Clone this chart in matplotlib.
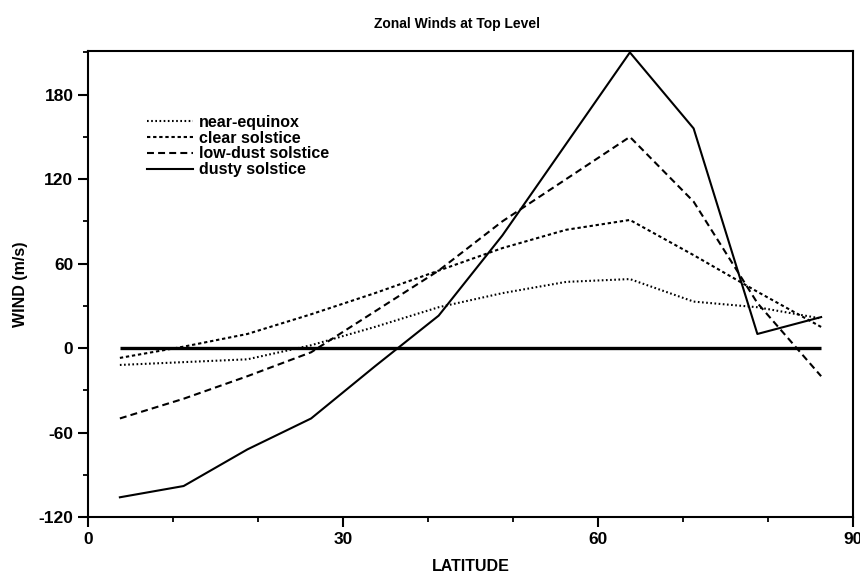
import matplotlib
matplotlib.use("Agg")
import matplotlib.pyplot as plt
from matplotlib.ticker import MultipleLocator

plt.rcParams['font.family'] = ['Liberation Sans', 'DejaVu Sans']
plt.rcParams['font.weight'] = 'bold'
plt.rcParams['lines.scale_dashes'] = False
plt.rcParams['axes.unicode_minus'] = False

latitude = [3.75, 11.25, 18.75, 26.25, 33.75, 41.25, 48.75, 56.25, 63.75, 71.25, 78.75, 86.25]
near_equinox = [-12, -10, -8, 2, 15, 29, 39, 47, 49, 33, 29, 21]
clear_solstice = [-7, 1, 10, 24, 39, 55, 71, 84, 91, 66, 40, 15]
low_dust_solstice = [-50, -36, -20, -3, 26, 55, 90, 120, 150, 104, 32, -20]
dusty_solstice = [-106, -98, -72, -50, -13, 23, 80, 145, 210, 156, 10, 22]
zero_line = [0] * len(latitude)

series_names = ["near-equinox", "clear solstice", "low-dust solstice", "dusty solstice"]
x_ticks = [0, 30, 60, 90]
y_ticks = [-120, -60, 0, 60, 120, 180]

fig = plt.figure(figsize=(8.6, 5.75), dpi=100)
ax = fig.add_axes([88/860, 1 - 517/575, (853-88)/860, (517-51)/575])

lw = 1.5
l1, = ax.plot(latitude, near_equinox, color='black', lw=lw, linestyle=(0, (1.2, 1.8)), label=series_names[0])
l2, = ax.plot(latitude, clear_solstice, color='black', lw=lw, linestyle=(0, (2.4, 2.0)), label=series_names[1])
l3, = ax.plot(latitude, low_dust_solstice, color='black', lw=lw, linestyle=(0, (5.0, 3.0)), label=series_names[2])
l4, = ax.plot(latitude, dusty_solstice, color='black', lw=lw, linestyle='-', label=series_names[3])
ax.plot(latitude, zero_line, color='black', lw=2.4, solid_capstyle='butt')

ax.set_xlim(0, 90)
ax.set_ylim(-120, 211)
ax.set_xticks(x_ticks)
ax.set_yticks(y_ticks)
ax.xaxis.set_minor_locator(MultipleLocator(10))
ax.yaxis.set_minor_locator(MultipleLocator(30))
ax.tick_params(which='major', direction='out', length=7, width=1.5, labelsize=12.5, pad=3.5)
ax.tick_params(which='minor', direction='out', length=3.6, width=1.3)
for lab in ax.get_xticklabels() + ax.get_yticklabels():
    lab.set_fontweight('bold')
for sp in ax.spines.values():
    sp.set_linewidth(1.5)

ax.set_xlabel("LATITUDE", fontsize=11.5, fontweight='bold')
ax.xaxis.set_label_coords(0.5, -0.090)
ax.set_ylabel("WIND (m/s)", fontsize=11.5, fontweight='bold')
ax.yaxis.set_label_coords(-0.078, 0.5)
ax.set_title("Zonal Winds at Top Level", fontsize=10, fontweight='bold', x=0.483, y=1.049, pad=0)

leg = ax.legend(handles=[l1, l2, l3, l4], loc='upper left', bbox_to_anchor=(0.077, 0.863),
                frameon=False, fontsize=11.5, handlelength=2.9, handletextpad=0.37,
                labelspacing=0.05, borderaxespad=0, borderpad=0)
for t in leg.get_texts():
    t.set_fontweight('bold')

fig.savefig("out.png", dpi=100)
